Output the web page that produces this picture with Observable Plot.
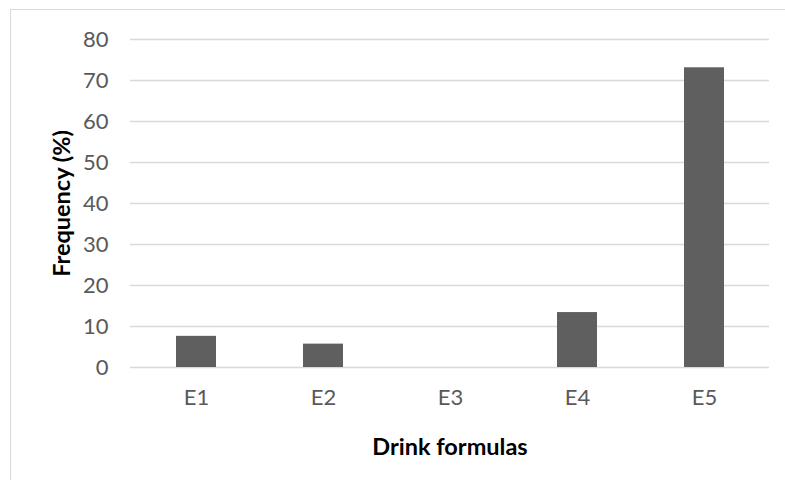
<!DOCTYPE html>
<html>
<head>
<meta charset="utf-8">
<script src="https://cdn.jsdelivr.net/npm/d3@7"></script>
<script src="https://cdn.jsdelivr.net/npm/@observablehq/plot@0.6"></script>
<style>
  html, body { margin: 0; padding: 0; background: #fff; }
  #wrap { position: relative; width: 785px; height: 480px; overflow: hidden; }
  #frame { position: absolute; left: 10px; top: 9px; right: -10px; bottom: -10px;
           border-top: 1.5px solid #d9d9d9; border-left: 1.5px solid #d9d9d9; pointer-events: none; }
  #chart { position: absolute; left: 0; top: 0; }
</style>
</head>
<body>
<div id="wrap"><div id="chart"></div><div id="frame"></div></div>
<script>
const categories = ["E1", "E2", "E3", "E4", "E5"];
const values = [7.6, 5.7, 0, 13.4, 73.1];
const yTicks = [0, 10, 20, 30, 40, 50, 60, 70, 80];
const xTitle = "Drink formulas";
const yTitle = "Frequency (%)";

const data = categories.map((c, i) => ({category: c, value: values[i]}));
const font = "Lato, 'Open Sans', sans-serif";

const chart = Plot.plot({
  width: 785,
  height: 480,
  marginLeft: 130,
  marginRight: 16,
  marginTop: 39,
  marginBottom: 113,
  style: {fontFamily: font, background: "transparent"},
  x: {domain: categories, paddingInner: 0.687, paddingOuter: 0.3435, label: null},
  y: {domain: [0, 80], label: null},
  marks: [
    Plot.gridY(yTicks, {stroke: "#d9d9d9", strokeOpacity: 1, strokeWidth: 1.5}),
    Plot.barY(data, {x: "category", y: "value", fill: "#5f5f5f"}),
    Plot.axisY(yTicks, {tickSize: 0, tickPadding: 22, fontSize: 22, color: "#595959", label: null}),
    Plot.axisX({tickSize: 0, tickPadding: 22, fontSize: 22, color: "#595959", label: null}),
    Plot.text([yTitle], {frameAnchor: "left", dx: -68, rotate: -90, textAnchor: "middle", lineAnchor: "middle", fontSize: 23.5, fontWeight: "bold", fill: "#000"}),
    Plot.text([xTitle], {frameAnchor: "bottom", dy: 80, textAnchor: "middle", lineAnchor: "middle", fontSize: 23.5, fontWeight: "bold", fill: "#000"})
  ]
});
document.getElementById("chart").appendChild(chart);
</script>
</body>
</html>
